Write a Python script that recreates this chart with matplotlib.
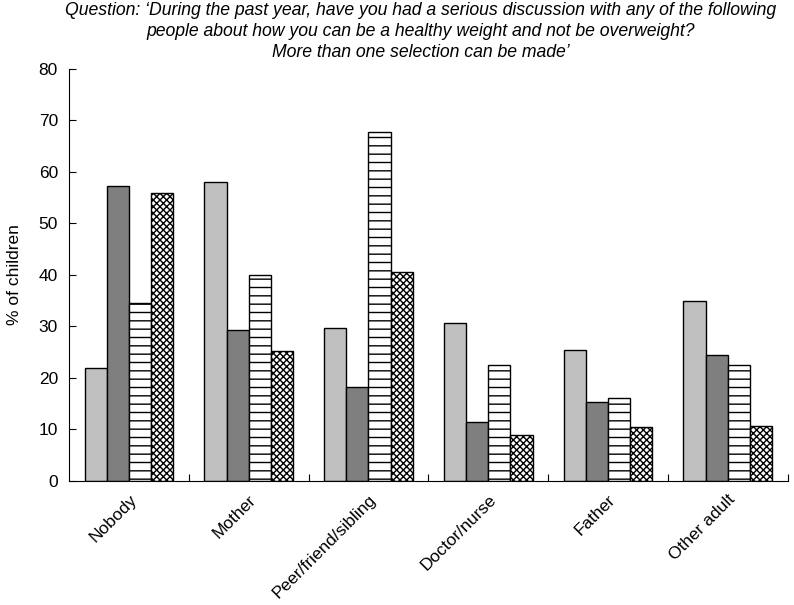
import numpy as np
from matplotlib import pyplot as plt

plt.rcParams['font.family'] = ['Liberation Sans', 'DejaVu Sans']
plt.rcParams['hatch.linewidth'] = 1.0

categories = ["Nobody", "Mother", "Peer/friend/sibling", "Doctor/nurse", "Father", "Other adult"]
series_a = [22.0, 58.0, 29.8, 30.7, 25.4, 35.0]
series_b = [57.2, 29.3, 18.3, 11.4, 15.4, 24.5]
series_c = [34.6, 40.0, 67.8, 22.6, 16.1, 22.6]
series_d = [56.0, 25.3, 40.5, 9.0, 10.5, 10.7]

fig = plt.figure(figsize=(7.94, 6.05), dpi=100)
ax = fig.add_axes([0.087, 0.205, 0.905, 0.681])

x = np.arange(len(categories))
w = 0.185
styles = [
    (series_a, "#c0c0c0", None),
    (series_b, "#7f7f7f", None),
    (series_c, "white", "--"),
    (series_d, "white", "xxxxx"),
]
for i, (vals, col, hatch) in enumerate(styles):
    ax.bar(x + (i - 1.5) * w, vals, w, color=col, edgecolor="black",
           linewidth=1.0, hatch=hatch)

ax.set_xlim(-0.5, len(categories) - 0.5)
ax.set_ylim(0, 80)
ax.set_yticks(range(0, 81, 10))
ax.set_xticks(x + 0.5, minor=False)
ax.set_xticklabels([])
ax.set_xticks(x, minor=True)
ax.set_xticklabels(categories, minor=True, rotation=45, ha="right",
                   rotation_mode="anchor", fontsize=12.5)
ax.tick_params(axis="x", which="minor", length=0, pad=8)
ax.tick_params(axis="x", which="major", direction="in", length=5)
ax.tick_params(axis="y", direction="in", length=5, labelsize=12.5, pad=8)
ax.spines["top"].set_visible(False)
ax.spines["right"].set_visible(False)
ax.set_ylabel("% of children", fontsize=12.5, labelpad=12)

fig.text(0.53, 0.997, "Question: \u2018During the past year, have you had a serious discussion with any of the following\n"
         "people about how you can be a healthy weight and not be overweight?\n"
         "More than one selection can be made\u2019",
         ha="center", va="top", fontsize=12.7, style="italic", linespacing=1.3)

fig.savefig("out.png", dpi=100)
